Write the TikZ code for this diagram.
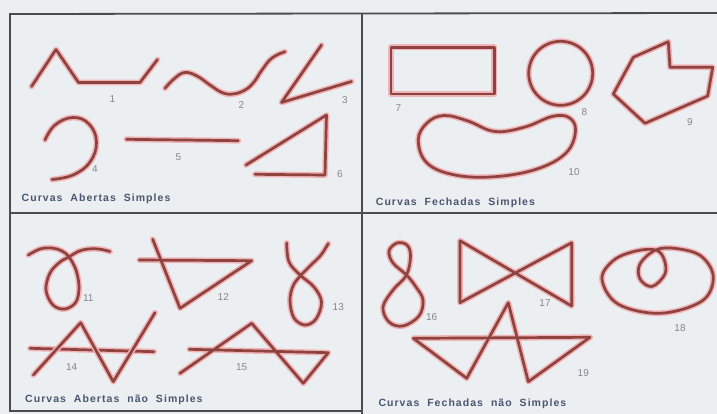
\documentclass[tikz,border=0pt]{standalone}
\usepackage{fontspec}
\setmainfont{Liberation Sans}
\newfontfamily\capfont[LetterSpace=10,WordSpace=2]{Liberation Sans Bold}
\definecolor{bg}{HTML}{ECEFF1}
\definecolor{frame}{HTML}{4A4C50}
\definecolor{ink}{HTML}{8E433E}
\definecolor{halo}{HTML}{F0B4B8}
\definecolor{captxt}{HTML}{4A5670}
\definecolor{numtxt}{HTML}{85858C}
\tikzset{
  curve/.style={draw=ink, line width=2.7pt, line join=round, line cap=round,
    preaction={draw=halo, line width=5.8pt, line join=round, line cap=round}},
  framel/.style={draw=frame, line width=1.8pt},
  num/.style={text=numtxt, font=\fontsize{10}{11}\selectfont, inner sep=0pt},
  captionlbl/.style={text=captxt, font=\capfont\fontsize{10.5}{11}\selectfont, inner sep=0pt, anchor=west}
}
\begin{document}
\begin{tikzpicture}[x=1pt,y=-1pt]
\fill[bg] (0,0) rectangle (717,414);
\useasboundingbox (0,0) rectangle (717,414);
% frame
\coordinate (tl) at (10,14);
\coordinate (tr) at (720,13);
\coordinate (ml) at (10,213);
\coordinate (mr) at (720,213);
\coordinate (vt) at (362,14);
\coordinate (vb) at (362,416);
\coordinate (bl) at (10,411);
\coordinate (bm) at (362,411);
\draw[framel] (tr) -- (tl) -- (bl) -- (bm);
\draw[framel] (ml) -- (mr);
\draw[framel] (vt) -- (vb);

% ---------- panel 1 ----------
\draw[curve] (31.5,86.5) -- (56,49.5) -- (78.5,82.5) -- (140,82.5) -- (157.5,59.5);
\node[num] (n1) at (112.5,99.5) {1};
\draw[curve] plot[smooth, tension=0.7] coordinates {(165,88.3) (175,78) (185,72.5) (197,76) (210,85) (222,92.5) (233,94) (245,90) (254,82) (262,70) (272,58) (285,51.7)};
\node[num] (n2) at (241.5,105) {2};
\draw[curve] (321.5,45) -- (281.5,102.5) -- (351.5,81.5);
\node[num] (n3) at (345,100) {3};
\draw[curve] plot[smooth, tension=0.7] coordinates {(45,140) (55,125) (73,117.5) (89,124) (96.5,142) (90,162) (73,175) (52,179.5)};
\node[num] (n4) at (95,169.5) {4};
\draw[curve] (126.5,139.3) -- (238.3,140.7);
\node[num] (n5) at (178.3,157.3) {5};
\draw[curve] (246,165) -- (326.5,115) -- (325,175) -- (255,174.3);
\node[num] (n6) at (340,174) {6};
\node[captionlbl] (c1) at (21.5,198.3) {Curvas Abertas Simples};

% ---------- panel 2 ----------
\draw[curve] (391,47.3) rectangle (494.3,94);
\node[num] (n7) at (398.3,108.3) {7};
\draw[curve] (560.7,73.3) circle[radius=32];
\node[num] (n8) at (584.3,111.7) {8};
\draw[curve] (613.3,94) -- (633.3,57.3) -- (668.3,41.7) -- (670,67.3) -- (712.7,67.3) -- (707.7,96) -- (645,123.3) -- cycle;
\node[num] (n9) at (690,121.7) {9};
\draw[curve] plot[smooth cycle, tension=0.65] coordinates {(418.3,140) (427,123) (444,115.5) (468,121) (495,131.5) (525,127) (552,116.5) (569,117.5) (575.5,131) (566,153) (537,169) (495,176.7) (455,175) (427,163)};
\node[num] (n10) at (574,171.7) {10};
\node[captionlbl] (c2) at (375.7,202.7) {Curvas Fechadas Simples};

% ---------- panel 3 ----------
\draw[curve] plot[smooth, tension=0.6] coordinates {(28.3,255) (40,249) (52,248) (62,251) (69,257) (76,270) (79,287) (76,302) (65,309) (53,305) (46,290) (50,273) (60,262) (69,257) (78,251.5) (88,249) (99,249) (110,251.5)};
\node[num] (n11) at (88.3,298) {11};
\draw[curve] (139.3,260) -- (251.7,260.7) -- (180,308.3) -- (152.7,239.3);
\node[num] (n12) at (223.3,297.3) {12};
\draw[curve] plot[smooth, tension=0.6] coordinates {(286.7,243) (289,262) (300.7,275.5) (314,287) (321.5,302) (316,319) (305,325) (294,318) (290,301) (293,286) (300.7,275.5) (311,265) (321,255) (328.3,243.5)};
\node[num] (n13) at (338.3,307.3) {13};
\draw[curve] (30,348.3) -- (154,351.7);
\draw[curve] (33.3,375) -- (80.7,322.7) -- (113.3,381.7) -- (155,312.7);
\node[num] (n14) at (71.7,366.7) {14};
\draw[curve] (180,373.3) -- (251.7,323.3) -- (303.3,383.3) -- (328.3,352.7) -- (189.3,349.3);
\node[num] (n15) at (241.7,366.7) {15};
\node[captionlbl] (c3) at (25,400) {Curvas Abertas não Simples};

% ---------- panel 4 ----------
\draw[curve] plot[smooth cycle, tension=0.6] coordinates {(406.5,275) (393,263) (389,251) (397,243) (407,245) (410.5,256) (406.5,275) (393,290) (383,307) (389,322) (403,326) (419,316) (423,300) (416,287)};
\node[num] (n16) at (431.7,316.7) {16};
\draw[curve] (460,240.7) -- (571.7,306) -- (571.7,242.7) -- (460,302.7) -- cycle;
\node[num] (n17) at (545,303.3) {17};
\draw[curve] plot[smooth cycle, tension=0.6] coordinates {(602,279) (614,260) (636,251) (655.7,250) (664,259) (665,274) (652,286.5) (640,279) (640,264) (655.7,250) (676,248.5) (701,256) (713.3,277) (702,301) (660,313.3) (618,304)};
\node[num] (n18) at (680,328.3) {18};
\draw[curve] (413.3,338.3) -- (590,337.3) -- (528.3,381.7) -- (508.3,302.7) -- (466.7,378.3) -- cycle;
\node[num] (n19) at (583.3,373.3) {19};
\node[captionlbl] (c4) at (378.3,403.3) {Curvas Fechadas não Simples};
\end{tikzpicture}
\end{document}
